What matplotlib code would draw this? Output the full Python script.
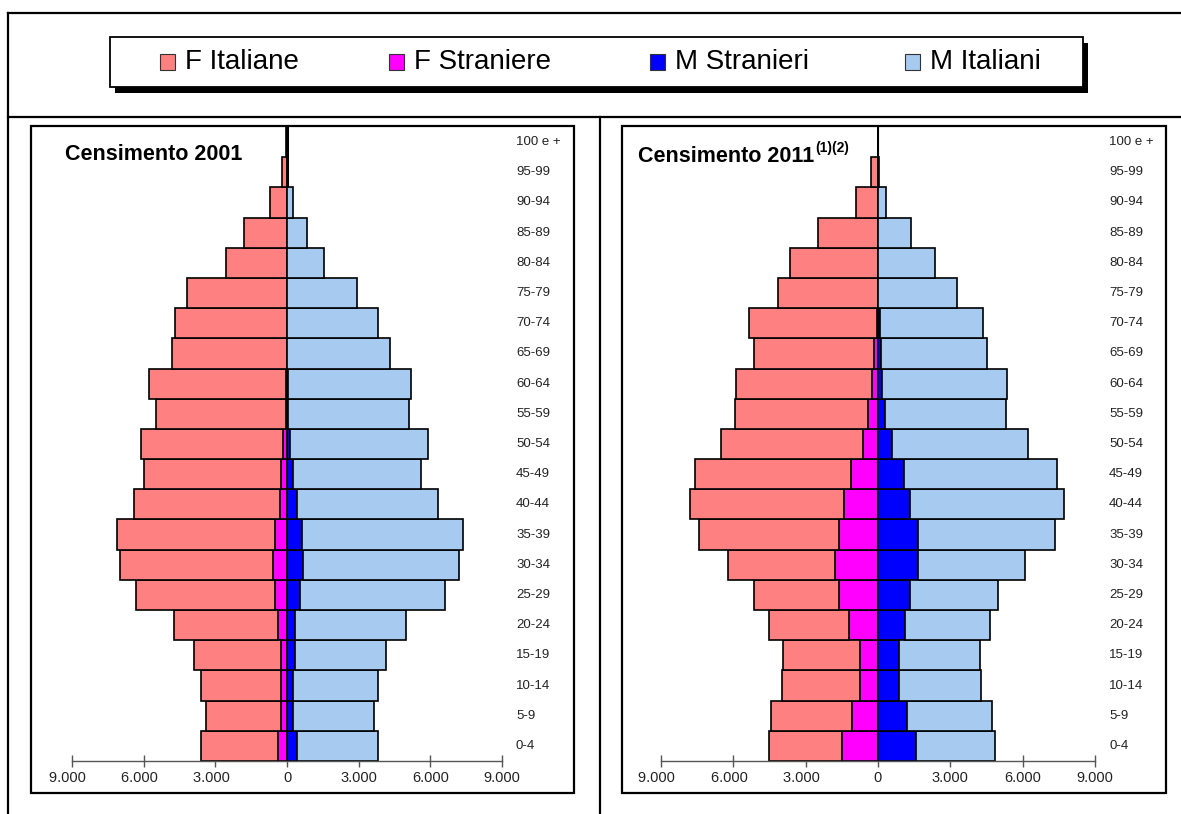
import matplotlib
matplotlib.use("Agg")
import matplotlib.pyplot as plt
from matplotlib.patches import Rectangle
from matplotlib.lines import Line2D
from matplotlib.ticker import FuncFormatter

plt.rcParams['font.family'] = ['Liberation Sans', 'DejaVu Sans']

# Age classes, youngest first
age_labels = ["0-4", "5-9", "10-14", "15-19", "20-24", "25-29", "30-34", "35-39",
              "40-44", "45-49", "50-54", "55-59", "60-64", "65-69", "70-74",
              "75-79", "80-84", "85-89", "90-94", "95-99", "100 e +"]

series_names = ["F Italiane", "F Straniere", "M Stranieri", "M Italiani"]
series_colors = ["#FF8080", "#FF00FF", "#0000FF", "#A6CAF0"]

# Censimento 2001
f_ital_2001 = [3210, 3140, 3350, 3650, 4360, 5830, 6420, 6620, 6110, 5720, 5950,
               5430, 5740, 4800, 4690, 4170, 2540, 1805, 730, 190, 30]
f_stran_2001 = [390, 250, 250, 250, 390, 510, 570, 510, 290, 250, 170,
                40, 30, 20, 10, 10, 5, 5, 0, 0, 0]
m_stran_2001 = [400, 260, 260, 320, 320, 540, 680, 620, 400, 260, 140,
                40, 30, 20, 10, 10, 5, 5, 0, 0, 0]
m_ital_2001 = [3430, 3370, 3570, 3810, 4660, 6090, 6530, 6730, 5940, 5370, 5780,
               5080, 5170, 4310, 3820, 2940, 1545, 815, 250, 40, 10]

# Censimento 2011
f_ital_2011 = [3020, 3350, 3240, 3170, 3310, 3520, 4430, 5800, 6400, 6440, 5860,
               5510, 5650, 5000, 5300, 4120, 3630, 2500, 910, 270, 0]
f_stran_2011 = [1490, 1080, 760, 760, 1200, 1630, 1780, 1630, 1400, 1130, 640,
                430, 230, 150, 60, 20, 10, 0, 0, 0, 0]
m_stran_2011 = [1570, 1220, 870, 870, 1140, 1340, 1640, 1640, 1340, 1070, 580,
                290, 150, 110, 90, 20, 10, 0, 0, 0, 0]
m_ital_2011 = [3290, 3500, 3420, 3350, 3500, 3650, 4440, 5700, 6380, 6360, 5630,
               5010, 5210, 4400, 4270, 3270, 2350, 1355, 335, 60, 0]

x_ticks = [-9000, -6000, -3000, 0, 3000, 6000, 9000]

W, H = 1181, 814
fig = plt.figure(figsize=(W / 100, H / 100), dpi=100)


def fx(x):
    return x / W


def fy(y):
    return 1 - y / H


def fline(x0, y0, x1, y1, lw=1.6, color="black"):
    fig.add_artist(Line2D([fx(x0), fx(x1)], [fy(y0), fy(y1)], transform=fig.transFigure,
                          color=color, lw=lw, solid_capstyle="projecting"))


def frect(x0, y0, x1, y1, **kw):
    r = Rectangle((fx(x0), fy(y1)), fx(x1) - fx(x0), fy(y0) - fy(y1),
                  transform=fig.transFigure, **kw)
    fig.add_artist(r)
    return r


def thousands(v, pos):
    # Italian thousands separator; negative side shown without sign
    s = f"{abs(int(v)):,}".replace(",", ".")
    return s + "  " if v < 0 else s


# Outer frame and separators
fline(8, 13, W, 13)
fline(8, 13, 8, H)
fline(8, 117, W, 117)
fline(600, 117, 600, H)

# Legend box with drop shadow
frect(115, 43, 1088, 93, facecolor="black", edgecolor="none", zorder=1)
frect(110, 37, 1083, 87, facecolor="white", edgecolor="black", lw=1.3, zorder=2)
legend_x = [160, 389, 650, 905]
for name, col, lx in zip(series_names, series_colors, legend_x):
    frect(lx, 54, lx + 15, 70, facecolor=col, edgecolor="#333333", lw=0.8, zorder=3)
    fig.text(fx(lx + 25), fy(62), name, fontsize=20, va="center", ha="left",
             color="black", zorder=3)

# Panel frames
frect(31, 126, 574, 793, facecolor="none", edgecolor="black", lw=1.6, zorder=1)
frect(622, 126, 1166, 793, facecolor="none", edgecolor="black", lw=1.6, zorder=1)

ax_bottom, ax_top = 761, 127
panels = [
    (72, 502, f_ital_2001, f_stran_2001, m_stran_2001, m_ital_2001, 2.2),
    (661, 1095, f_ital_2011, f_stran_2011, m_stran_2011, m_ital_2011, 0.8),
]

ypos = list(range(len(age_labels)))
axes = []
for x0, x1, f_it, f_st, m_st, m_it, zlw in panels:
    ax = fig.add_axes([fx(x0), fy(ax_bottom), fx(x1) - fx(x0), (ax_bottom - ax_top) / H])
    ax.patch.set_alpha(0)
    ax.axvline(0, color="black", lw=zlw, zorder=1)
    ekw = dict(height=1.0, edgecolor="black", linewidth=1.2, zorder=2)
    ax.barh(ypos, [-v for v in f_st], color=series_colors[1], **ekw)
    ax.barh(ypos, [-v for v in f_it], left=[-v for v in f_st], color=series_colors[0], **ekw)
    ax.barh(ypos, m_st, color=series_colors[2], **ekw)
    ax.barh(ypos, m_it, left=m_st, color=series_colors[3], **ekw)
    ax.set_xlim(-9000, 9000)
    ax.set_ylim(-0.5, len(age_labels) - 0.5)
    for s in ("left", "right", "top"):
        ax.spines[s].set_visible(False)
    ax.spines["bottom"].set_color("#555555")
    ax.spines["bottom"].set_linewidth(1.0)
    ax.set_yticks([])
    ax.set_xticks(x_ticks)
    ax.xaxis.set_major_formatter(FuncFormatter(thousands))
    ax.tick_params(axis="x", direction="inout", length=8, width=1.0, color="#555555",
                   labelsize=10.5, labelcolor="#222222", pad=3)
    for i, lab in enumerate(age_labels):
        ax.text(1.0 + 14 / (x1 - x0), i, lab, transform=ax.get_yaxis_transform(),
                fontsize=9.5, va="center", ha="left", color="#222222")
    axes.append(ax)

fig.text(fx(65), fy(155), "Censimento 2001", fontsize=15.5, fontweight="bold",
         va="center", ha="left")
t2 = fig.text(fx(638), fy(157), "Censimento 2011", fontsize=15.5, fontweight="bold",
              va="center", ha="left")
axes[1].annotate("(1)(2)", xy=(1.0, 0.6), xycoords=t2, xytext=(1, 0),
                 textcoords="offset points", fontsize=10, fontweight="bold",
                 va="bottom", ha="left", annotation_clip=False)

fig.savefig("out.png", dpi=100)
